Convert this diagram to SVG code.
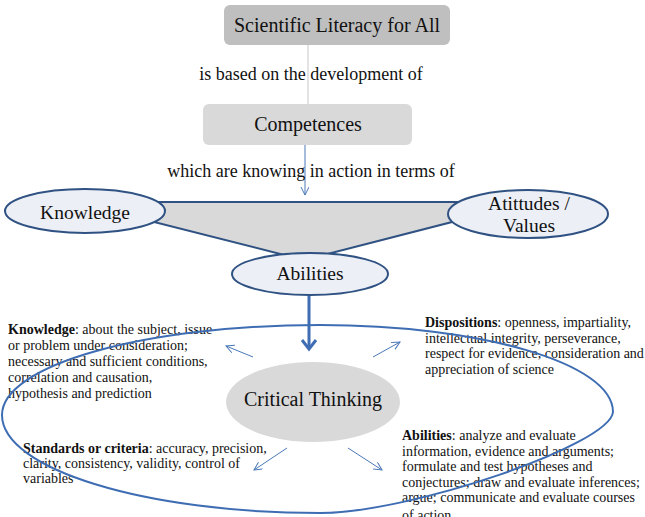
<svg xmlns="http://www.w3.org/2000/svg" width="645" height="517" viewBox="0 0 645 517">
<style>
text { font-family: "Liberation Serif", "Times New Roman", serif; fill: #111; }
.t18 { font-size: 18px; }
.t20 { font-size: 20px; }
.t19 { font-size: 19.5px; }
.body { font-size: 14px; }
.ell { fill: #eceff5; stroke: #2f5283; stroke-width: 2; }
.thin { fill: none; stroke: #4a78b8; stroke-width: 1; }
</style>
<defs>
<marker id="openV" markerWidth="10" markerHeight="10" refX="8" refY="4" orient="auto" markerUnits="userSpaceOnUse">
<path d="M0,0 L8,4 L0,8" fill="none" stroke="#4a78b8" stroke-width="1"/>
</marker>
</defs>

<rect width="645" height="517" fill="#ffffff"/>

<g id="connectors">
<line x1="308" y1="45" x2="308" y2="104" stroke="#c8c8c8" stroke-width="1"/>
<line x1="305" y1="145" x2="305" y2="195" class="thin" marker-end="url(#openV)"/>
<line x1="309" y1="296" x2="309" y2="349" stroke="#3e6db3" stroke-width="3"/>
<path d="M302,340 L309,349 L316,340" fill="none" stroke="#3e6db3" stroke-width="3"/>
<line x1="253" y1="357" x2="226" y2="346" class="thin" marker-end="url(#openV)"/>
<line x1="373" y1="357" x2="400" y2="342" class="thin" marker-end="url(#openV)"/>
<line x1="287" y1="448" x2="254" y2="470" class="thin" marker-end="url(#openV)"/>
<line x1="348" y1="448" x2="382" y2="470" class="thin" marker-end="url(#openV)"/>
</g>

<g id="scientific-literacy">
<rect x="224" y="5" width="226" height="40" rx="6" fill="#bfbfbf"/>
<text class="t20" x="337" y="32" text-anchor="middle">Scientific Literacy for All</text>
</g>

<g id="label-based">
<text class="t18" x="311" y="80" text-anchor="middle">is based on the development of</text>
</g>

<g id="competences">
<rect x="203" y="104" width="209" height="41" rx="6" fill="#d9d9d9"/>
<text class="t20" x="308" y="131" text-anchor="middle">Competences</text>
</g>

<g id="label-knowing">
<text class="t18" x="311" y="177" text-anchor="middle">which are knowing in action in terms of</text>
</g>

<g id="triangle">
<polygon points="75,202 530,202 304,260" fill="#d9d9d9" stroke="#2f5283" stroke-width="2"/>
</g>

<g id="knowledge">
<ellipse class="ell" cx="85" cy="211" rx="80" ry="22"/>
<text class="t19" x="85" y="219" text-anchor="middle">Knowledge</text>
</g>

<g id="attitudes">
<ellipse class="ell" cx="528" cy="214" rx="80" ry="24"/>
<text class="t19" x="529" y="210" text-anchor="middle">Atittudes /</text>
<text class="t19" x="529" y="232" text-anchor="middle">Values</text>
</g>

<g id="abilities">
<ellipse class="ell" cx="310" cy="274" rx="78" ry="21"/>
<text class="t19" x="310" y="280" text-anchor="middle">Abilities</text>
</g>

<g id="critical-thinking">
<ellipse cx="313" cy="402" rx="87" ry="40" fill="#d9d9d9"/>
<text class="t20" x="313" y="406" text-anchor="middle">Critical Thinking</text>
</g>

<g id="knowledge-text">
<text class="body" x="8" y="334"><tspan font-weight="bold">Knowledge</tspan>: about the subject, issue</text>
<text class="body" x="8" y="350">or problem under consideration;</text>
<text class="body" x="8" y="366">necessary and sufficient conditions,</text>
<text class="body" x="8" y="382">correlation and causation,</text>
<text class="body" x="8" y="398">hypothesis and prediction</text>
</g>

<g id="dispositions-text">
<text class="body" x="425" y="327"><tspan font-weight="bold">Dispositions</tspan>: openness, impartiality,</text>
<text class="body" x="425" y="342.5">intellectual integrity, perseverance,</text>
<text class="body" x="425" y="358">respect for evidence, consideration and</text>
<text class="body" x="425" y="373.5">appreciation of science</text>
</g>

<g id="standards-text">
<text class="body" x="23" y="453"><tspan font-weight="bold">Standards or criteria</tspan>: accuracy, precision,</text>
<text class="body" x="23" y="468">clarity, consistency, validity, control of</text>
<text class="body" x="23" y="483">variables</text>
</g>

<g id="abilities-text">
<text class="body" x="402" y="440"><tspan font-weight="bold">Abilities</tspan>: analyze and evaluate</text>
<text class="body" x="402" y="455.5">information, evidence and arguments;</text>
<text class="body" x="402" y="471">formulate and test hypotheses and</text>
<text class="body" x="402" y="486.5">conjectures; draw and evaluate inferences;</text>
<text class="body" x="402" y="502">argue; communicate and evaluate courses</text>
<text class="body" x="402" y="520">of action</text>
</g>

<g id="outer-ellipse">
<path d="M320,325 C480,325 613,363 613,412 C610,445 410,513 320,513 C145,513 2,469 2,415 C2,365 145,325 320,325 Z" fill="none" stroke="#3e6db3" stroke-width="2"/>
</g>
</svg>
